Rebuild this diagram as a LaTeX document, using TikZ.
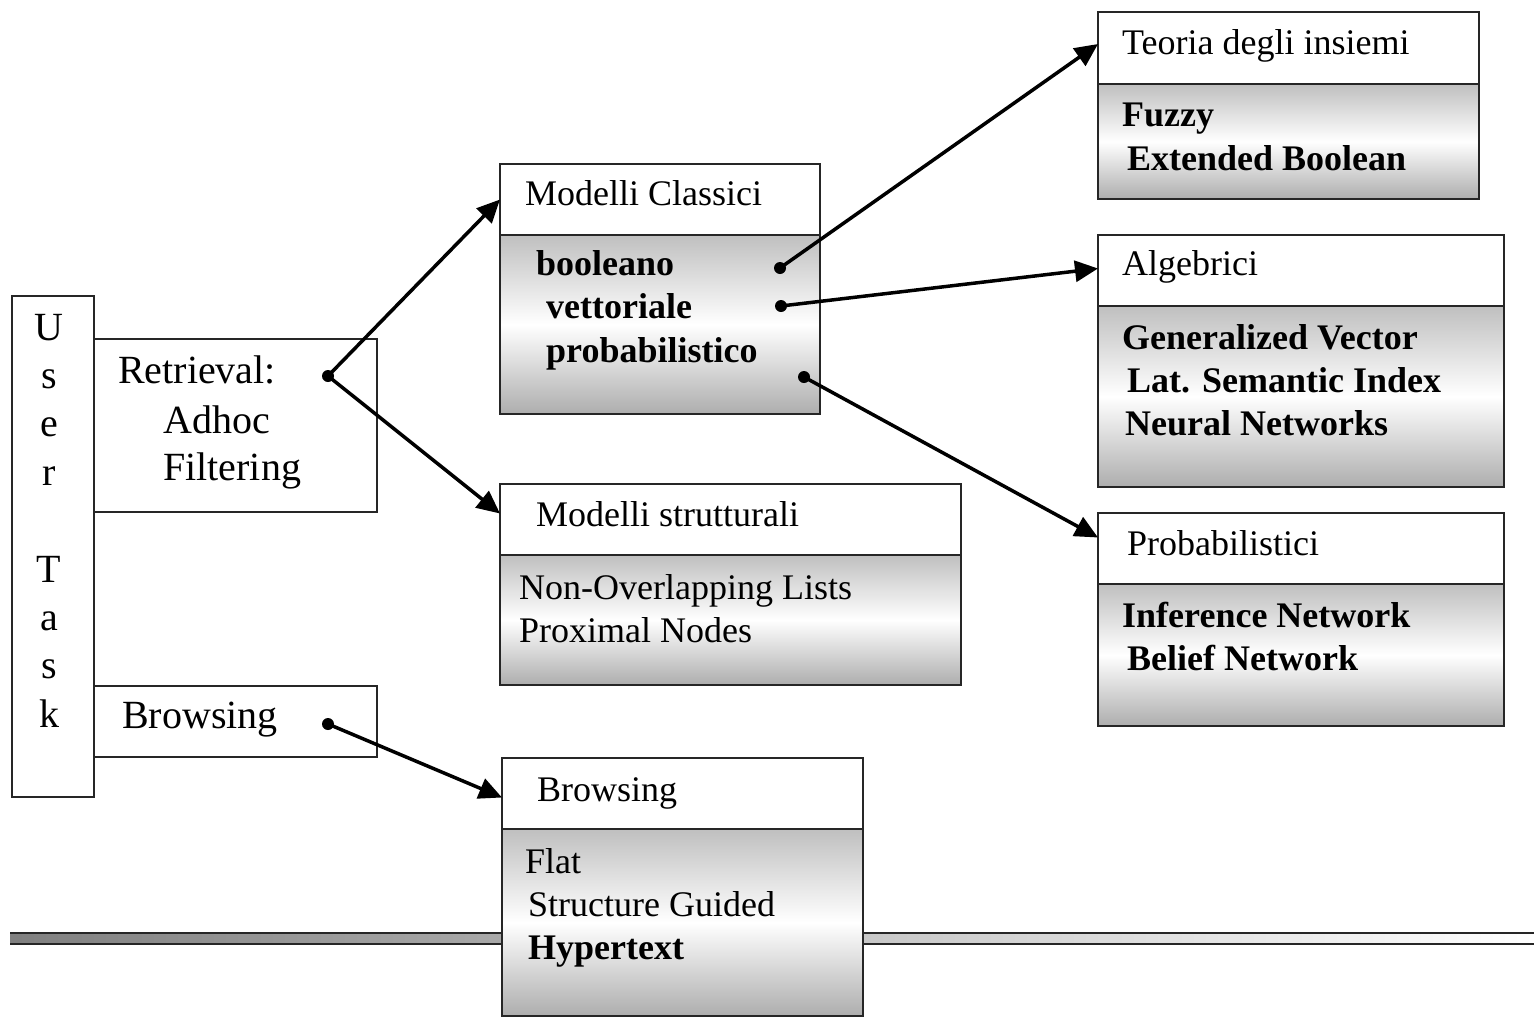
\documentclass[tikz,border=0pt]{standalone}
\usepackage{fontspec}
\setmainfont{Liberation Serif}
\usetikzlibrary{arrows.meta,calc}

\tikzset{
  boxline/.style={draw=black!85, line width=2pt, rectangle, inner sep=0pt, outer sep=0pt, anchor=north west},
  hdr/.style={boxline, fill=white},
  body/.style={boxline, top color=black!25, bottom color=black!32, middle color=white},
  txt/.style={anchor=base west, inner sep=0pt, font=\fontsize{36}{40}\selectfont},
  btxt/.style={txt, font=\fontsize{36}{40}\selectfont\bfseries},
  ltxt/.style={anchor=base west, inner sep=0pt, font=\fontsize{40}{44}\selectfont},
  letter/.style={anchor=base, inner sep=0pt, font=\fontsize{40}{44}\selectfont},
  dot/.style={circle, fill=black, inner sep=0pt, minimum size=12pt},
  link/.style={line width=3.5pt, -{Triangle[length=23pt,width=21pt]}},
}

\begin{document}
\begin{tikzpicture}[x=1pt,y=-1pt]
\useasboundingbox (0,0) rectangle (1534,1018);

% horizontal rule across the lower part
\fill[left color=black!50, right color=white] (10,933) rectangle (1534,944);
\draw[line width=2pt, black!85] (10,933) -- (1534,933) (10,944) -- (1534,944);

% user task column
\node[hdr, minimum width=82pt, minimum height=501pt] (user) at (12,296) {};
\foreach \c/\i in {U/0,s/1,e/2,r/3,T/5,a/6,s/7,k/8}
  \node[letter] (u\i) at (49,{340+48.4*\i}) {\c};

% task boxes
\node[hdr, minimum width=283pt, minimum height=173pt] (retr) at (94,339) {};
\node[ltxt] (r1) at (118,383) {Retrieval:};
\node[ltxt] (r2) at (163,433) {Adhoc};
\node[ltxt] (r3) at (163,480) {Filtering};

\node[hdr, minimum width=283pt, minimum height=71pt] (brw) at (94,686) {};
\node[ltxt] (b1) at (122,728) {Browsing};

% Modelli Classici
\node[hdr, minimum width=320pt, minimum height=71pt] (mch) at (500,164) {};
\node[body, minimum width=320pt, minimum height=179pt] (mcb) at (500,235) {};
\node[txt] (mct) at (525,205) {Modelli Classici};
\node[btxt] (mc1) at (536,275) {booleano};
\node[btxt] (mc2) at (546,318) {vettoriale};
\node[btxt] (mc3) at (546,362) {probabilistico};

% Modelli strutturali
\node[hdr, minimum width=461pt, minimum height=71pt] (msh) at (500,484) {};
\node[body, minimum width=461pt, minimum height=130pt] (msb) at (500,555) {};
\node[txt] (mst) at (536,526) {Modelli strutturali};
\node[txt] (ms1) at (519,599) {Non-Overlapping Lists};
\node[txt] (ms2) at (519,642) {Proximal Nodes};

% Browsing models
\node[hdr, minimum width=361pt, minimum height=71pt] (bmh) at (502,758) {};
\node[body, minimum width=361pt, minimum height=187pt] (bmb) at (502,829) {};
\node[txt] (bmt) at (537,801) {Browsing};
\node[txt] (bm1) at (525,873) {Flat};
\node[txt] (bm2) at (528,916) {Structure Guided};
\node[btxt] (bm3) at (528,959) {Hypertext};

% Teoria degli insiemi
\node[hdr, minimum width=381pt, minimum height=72pt] (tih) at (1098,12) {};
\node[body, minimum width=381pt, minimum height=115pt] (tib) at (1098,84) {};
\node[txt] (tit) at (1122,54) {Teoria degli insiemi};
\node[btxt] (ti1) at (1122,126) {Fuzzy};
\node[btxt] (ti2) at (1127,170) {Extended Boolean};

% Algebrici
\node[hdr, minimum width=406pt, minimum height=71pt] (alh) at (1098,235) {};
\node[body, minimum width=406pt, minimum height=181pt] (alb) at (1098,306) {};
\node[txt] (alt) at (1122,275) {Algebrici};
\node[btxt] (al1) at (1122,349) {Generalized Vector};
\node[btxt] (al2) at (1127,392) {Lat. Semantic Index};
\node[btxt] (al3) at (1125,435) {Neural Networks};

% Probabilistici
\node[hdr, minimum width=406pt, minimum height=71pt] (prh) at (1098,513) {};
\node[body, minimum width=406pt, minimum height=142pt] (prb) at (1098,584) {};
\node[txt] (prt) at (1127,555) {Probabilistici};
\node[btxt] (pr1) at (1122,627) {Inference Network};
\node[btxt] (pr2) at (1127,670) {Belief Network};

% connector start points
\node[dot] (dr) at (328,376) {};
\node[dot] (db) at (328,724) {};
\node[dot] (d1) at (780,268) {};
\node[dot] (d2) at (781,306) {};
\node[dot] (d3) at (804,377) {};

% connectors
\draw[link] (dr.center) -- (mch.west);
\draw[link] (dr.center) -- ($(msh.west)+(0,-6)$);
\draw[link] (db.center) -- ($(bmh.west)+(0,4)$);
\draw[link] (d1.center) -- ($(tih.west)+(0,-4)$);
\draw[link] (d2.center) -- ($(alh.west)+(0,-2)$);
\draw[link] (d3.center) -- ($(prh.west)+(0,-11)$);
\end{tikzpicture}
\end{document}
